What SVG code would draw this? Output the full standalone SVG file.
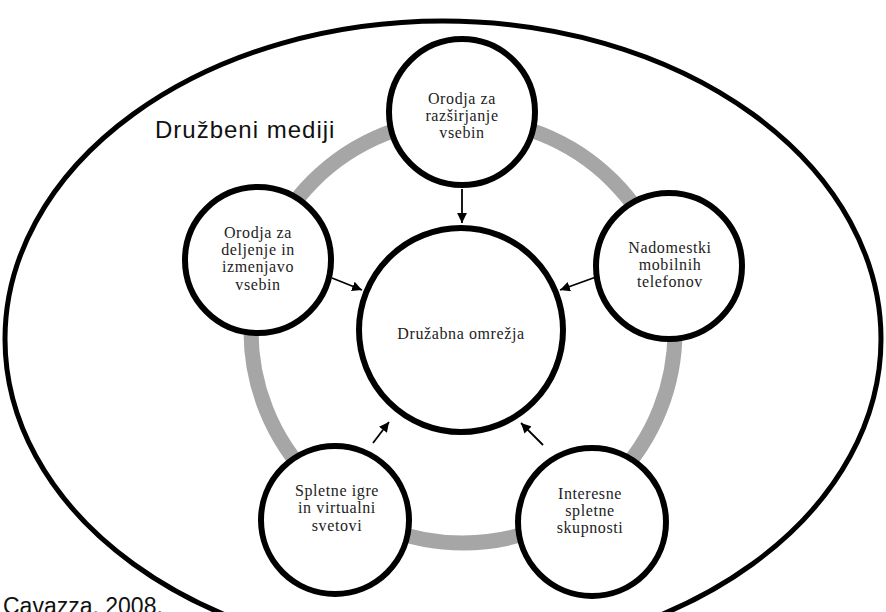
<svg xmlns="http://www.w3.org/2000/svg" width="886" height="612" viewBox="0 0 886 612">
<defs>
<style>
.node{fill:#fff;stroke:#000;stroke-width:6}
.lbl{font-family:"Liberation Serif",serif;font-size:16px;fill:#222;text-anchor:middle;letter-spacing:0.6px}
.edge{stroke:#000;stroke-width:1.8;fill:none;marker-end:url(#ah)}
.sans{font-family:"Liberation Sans",Arial,sans-serif;fill:#111}
</style>
<marker id="ah" viewBox="0 0 10 10" refX="10" refY="5" markerWidth="5.5" markerHeight="5.5" orient="auto" markerUnits="strokeWidth">
<path d="M0,0 L10,5 L0,10 Z" fill="#000"/>
</marker>
</defs>
<rect width="886" height="612" fill="#fff"/>
<g id="outer">
<ellipse cx="443" cy="339" rx="438" ry="318" fill="none" stroke="#000" stroke-width="5"/>
<text class="sans" x="155" y="138" font-size="24" letter-spacing="1">Družbeni mediji</text>
</g>
<g id="ring">
<circle cx="463" cy="331" r="212" fill="none" stroke="#a6a6a6" stroke-width="15"/>
</g>
<g id="connectors">
<line class="edge" x1="462" y1="189" x2="462" y2="223"/>
<line class="edge" x1="332" y1="278" x2="362" y2="290"/>
<line class="edge" x1="596" y1="277" x2="560" y2="290"/>
<line class="edge" x1="373" y1="443" x2="389" y2="422"/>
<line class="edge" x1="543" y1="445" x2="521" y2="423"/>
</g>
<g id="center">
<circle class="node" cx="461" cy="330" r="102" stroke-width="5.5"/>
<text class="lbl" x="461" y="339" font-size="17" letter-spacing="0">Družabna omrežja</text>
</g>
<g id="top">
<circle class="node" cx="462" cy="112" r="73"/>
<text class="lbl" x="462" y="104">Orodja za</text>
<text class="lbl" x="462" y="121">razširjanje</text>
<text class="lbl" x="462" y="138">vsebin</text>
</g>
<g id="left">
<circle class="node" cx="258" cy="260" r="73"/>
<text class="lbl" x="258" y="238">Orodja za</text>
<text class="lbl" x="258" y="255">deljenje in</text>
<text class="lbl" x="258" y="272">izmenjavo</text>
<text class="lbl" x="258" y="290">vsebin</text>
</g>
<g id="right">
<circle class="node" cx="669" cy="266" r="73"/>
<text class="lbl" x="670" y="253">Nadomestki</text>
<text class="lbl" x="670" y="270">mobilnih</text>
<text class="lbl" x="670" y="287">telefonov</text>
</g>
<g id="bottom-left">
<circle class="node" cx="335" cy="520" r="74"/>
<text class="lbl" x="337" y="496">Spletne igre</text>
<text class="lbl" x="337" y="513">in virtualni</text>
<text class="lbl" x="337" y="531">svetovi</text>
</g>
<g id="bottom-right">
<circle class="node" cx="592" cy="522" r="74"/>
<text class="lbl" x="590" y="499">Interesne</text>
<text class="lbl" x="590" y="516">spletne</text>
<text class="lbl" x="590" y="533">skupnosti</text>
</g>
<text class="sans" x="3" y="614" font-size="23">Cavazza, 2008.</text>
</svg>
